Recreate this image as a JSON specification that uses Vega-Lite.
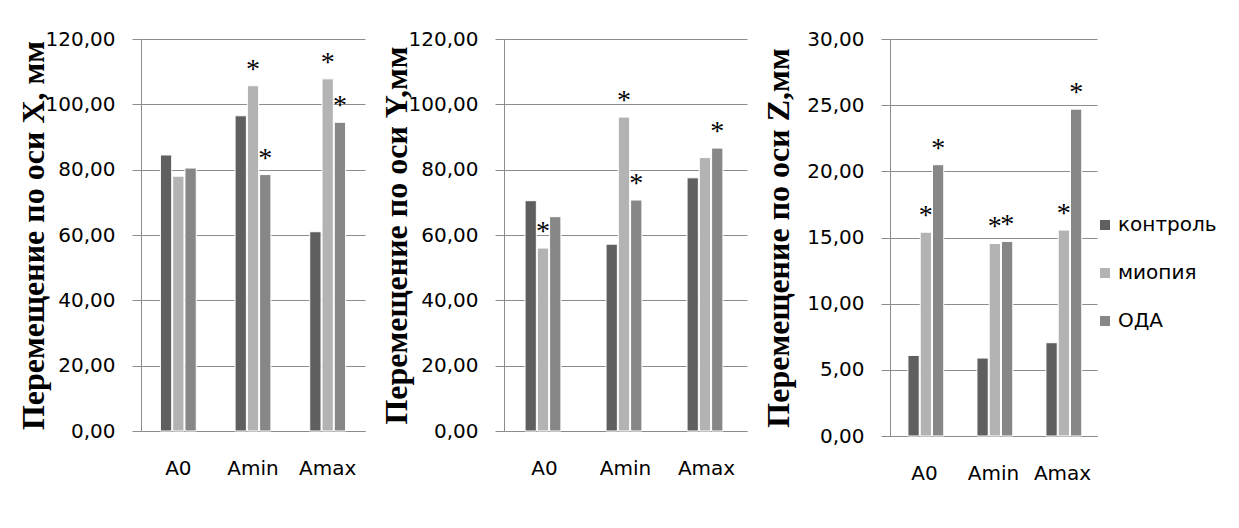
{
  "$schema": "https://vega.github.io/schema/vega-lite/v6.json",
  "background": "white",
  "padding": {"left": 17, "top": 29, "right": 5, "bottom": 5},
  "spacing": 15,
  "resolve": {"scale": {"color": "independent"}, "legend": {"color": "independent"}},
  "config": {
    "view": {"stroke": null},
    "font": "DejaVu Sans",
    "axisY": {
      "domainColor": "#8c8c8c", "tickColor": "#8c8c8c", "gridColor": "#8c8c8c",
      "tickSize": 9, "labelPadding": 17, "labelFontSize": 20, "labelColor": "black",
      "labelFont": "DejaVu Sans", "titleFont": "Liberation Serif", "titleFontSize": 32,
      "titleFontWeight": "bold", "titleColor": "black", "titlePadding": -5,
      "labelExpr": "replace(format(datum.value, '.2f'), '.', ',')"
    },
    "axisX": {
      "domainColor": "#8c8c8c", "ticks": false, "labelPadding": 27, "labelAngle": 0,
      "labelFontSize": 20, "labelColor": "black", "labelFont": "DejaVu Sans", "grid": false, "title": null
    }
  },
  "datasets": {
    "bars": [
      {"axis": "X", "group": "A0", "series": "контроль", "value": 84.5, "star": ""},
      {"axis": "X", "group": "A0", "series": "миопия", "value": 78.0, "star": ""},
      {"axis": "X", "group": "A0", "series": "ОДА", "value": 80.5, "star": ""},
      {"axis": "X", "group": "Amin", "series": "контроль", "value": 96.5, "star": ""},
      {"axis": "X", "group": "Amin", "series": "миопия", "value": 105.7, "star": "*"},
      {"axis": "X", "group": "Amin", "series": "ОДА", "value": 78.5, "star": "*"},
      {"axis": "X", "group": "Amax", "series": "контроль", "value": 61.0, "star": ""},
      {"axis": "X", "group": "Amax", "series": "миопия", "value": 107.8, "star": "*"},
      {"axis": "X", "group": "Amax", "series": "ОДА", "value": 94.5, "star": "*"},
      {"axis": "Y", "group": "A0", "series": "контроль", "value": 70.5, "star": ""},
      {"axis": "Y", "group": "A0", "series": "миопия", "value": 56.0, "star": "*"},
      {"axis": "Y", "group": "A0", "series": "ОДА", "value": 65.6, "star": ""},
      {"axis": "Y", "group": "Amin", "series": "контроль", "value": 57.2, "star": ""},
      {"axis": "Y", "group": "Amin", "series": "миопия", "value": 96.1, "star": "*"},
      {"axis": "Y", "group": "Amin", "series": "ОДА", "value": 70.7, "star": "*"},
      {"axis": "Y", "group": "Amax", "series": "контроль", "value": 77.5, "star": ""},
      {"axis": "Y", "group": "Amax", "series": "миопия", "value": 83.7, "star": ""},
      {"axis": "Y", "group": "Amax", "series": "ОДА", "value": 86.6, "star": "*"},
      {"axis": "Z", "group": "A0", "series": "контроль", "value": 6.09, "star": ""},
      {"axis": "Z", "group": "A0", "series": "миопия", "value": 15.4, "star": "*"},
      {"axis": "Z", "group": "A0", "series": "ОДА", "value": 20.5, "star": "*"},
      {"axis": "Z", "group": "Amin", "series": "контроль", "value": 5.89, "star": ""},
      {"axis": "Z", "group": "Amin", "series": "миопия", "value": 14.55, "star": "*"},
      {"axis": "Z", "group": "Amin", "series": "ОДА", "value": 14.7, "star": "*"},
      {"axis": "Z", "group": "Amax", "series": "контроль", "value": 7.05, "star": ""},
      {"axis": "Z", "group": "Amax", "series": "миопия", "value": 15.56, "star": "*"},
      {"axis": "Z", "group": "Amax", "series": "ОДА", "value": 24.7, "star": "*"}
    ]
  },
  "hconcat": [
    {
      "width": 224, "height": 392,
      "data": {"name": "bars"},
      "transform": [{"filter": "datum.axis === 'X'"}],
      "encoding": {
        "x": {"field": "group", "type": "nominal", "sort": ["A0", "Amin", "Amax"], "scale": {"paddingInner": 0.52, "paddingOuter": 0.26}},
        "xOffset": {"field": "series", "type": "nominal", "sort": ["контроль", "миопия", "ОДА"], "scale": {"paddingInner": 0.08}},
        "y": {"field": "value", "type": "quantitative", "scale": {"domain": [0, 120], "nice": false}, "axis": {"values": [0, 20, 40, 60, 80, 100, 120], "title": "Перемещение по оси X, мм"}}
      },
      "layer": [
        {"mark": {"type": "bar", "stroke": "white", "strokeWidth": 1},
         "encoding": {"color": {"field": "series", "type": "nominal", "sort": ["контроль", "миопия", "ОДА"], "scale": {"domain": ["контроль", "миопия", "ОДА"], "range": ["#5f5f5f", "#b3b3b3", "#878787"]}, "legend": null}}},
        {"transform": [{"filter": "datum.star !== ''"}],
         "mark": {"type": "text", "font": "Liberation Serif", "fontSize": 28, "baseline": "middle", "dy": -16, "color": "black"},
         "encoding": {"text": {"field": "star"}}}
      ]
    },
    {
      "width": 243, "height": 392,
      "data": {"name": "bars"},
      "transform": [{"filter": "datum.axis === 'Y'"}],
      "encoding": {
        "x": {"field": "group", "type": "nominal", "sort": ["A0", "Amin", "Amax"], "scale": {"paddingInner": 0.52, "paddingOuter": 0.26}},
        "xOffset": {"field": "series", "type": "nominal", "sort": ["контроль", "миопия", "ОДА"], "scale": {"paddingInner": 0.08}},
        "y": {"field": "value", "type": "quantitative", "scale": {"domain": [0, 120], "nice": false}, "axis": {"values": [0, 20, 40, 60, 80, 100, 120], "title": "Перемещение по оси Y,мм"}}
      },
      "layer": [
        {"mark": {"type": "bar", "stroke": "white", "strokeWidth": 1},
         "encoding": {"color": {"field": "series", "type": "nominal", "sort": ["контроль", "миопия", "ОДА"], "scale": {"domain": ["контроль", "миопия", "ОДА"], "range": ["#5f5f5f", "#b3b3b3", "#878787"]}, "legend": null}}},
        {"transform": [{"filter": "datum.star !== ''"}],
         "mark": {"type": "text", "font": "Liberation Serif", "fontSize": 28, "baseline": "middle", "dy": -16, "color": "black"},
         "encoding": {"text": {"field": "star"}}}
      ]
    },
    {
      "width": 207, "height": 397,
      "data": {"name": "bars"},
      "transform": [{"filter": "datum.axis === 'Z'"}],
      "encoding": {
        "x": {"field": "group", "type": "nominal", "sort": ["A0", "Amin", "Amax"], "scale": {"paddingInner": 0.52, "paddingOuter": 0.26}},
        "xOffset": {"field": "series", "type": "nominal", "sort": ["контроль", "миопия", "ОДА"], "scale": {"paddingInner": 0.08}},
        "y": {"field": "value", "type": "quantitative", "scale": {"domain": [0, 30], "nice": false}, "axis": {"values": [0, 5, 10, 15, 20, 25, 30], "title": "Перемещение по оси Z,мм", "titlePadding": 11}}
      },
      "layer": [
        {"mark": {"type": "bar", "stroke": "white", "strokeWidth": 1},
         "encoding": {"color": {"field": "series", "type": "nominal", "sort": ["контроль", "миопия", "ОДА"], "scale": {"domain": ["контроль", "миопия", "ОДА"], "range": ["#5f5f5f", "#b3b3b3", "#878787"]},
           "legend": {"orient": "none", "legendX": 205, "legendY": 176, "title": null, "symbolType": "square", "symbolSize": 100, "symbolStrokeWidth": 0, "labelFontSize": 20, "labelFont": "DejaVu Sans", "labelColor": "black", "rowPadding": 28, "labelOffset": 3}}}},
        {"transform": [{"filter": "datum.star !== ''"}],
         "mark": {"type": "text", "font": "Liberation Serif", "fontSize": 28, "baseline": "middle", "dy": -16, "color": "black"},
         "encoding": {"text": {"field": "star"}}}
      ]
    }
  ]
}
